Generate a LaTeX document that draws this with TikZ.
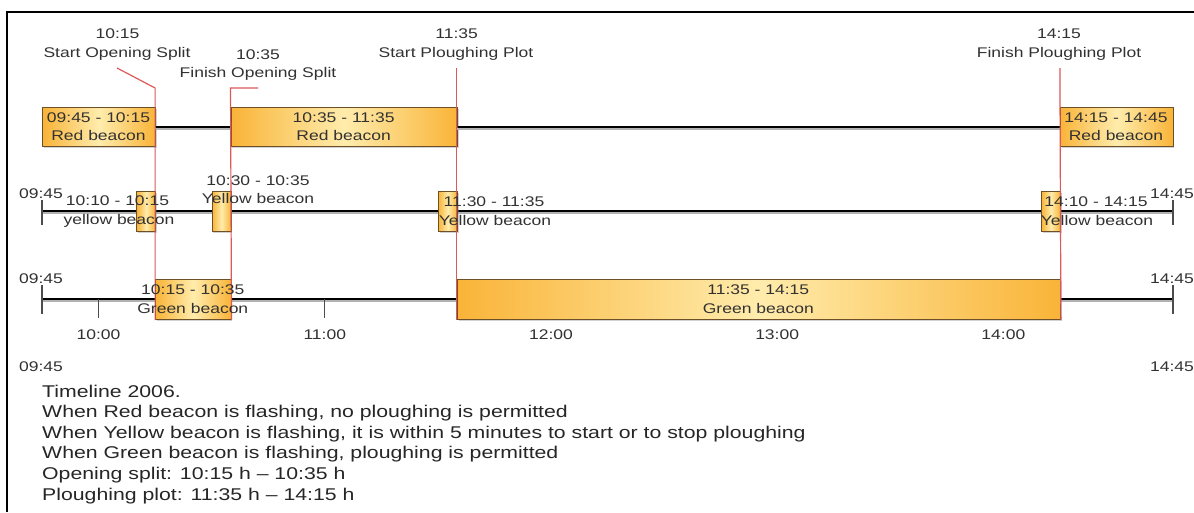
\documentclass[tikz,border=0pt]{standalone}
\usepackage{fontspec}
\setmainfont{Liberation Sans}
\usepackage{graphicx}
\usetikzlibrary{shadows}
\definecolor{boxedge}{RGB}{249,180,56}
\definecolor{boxmid}{RGB}{255,236,172}
\definecolor{boxline}{RGB}{110,80,40}
\definecolor{markred}{RGB}{222,88,88}
\definecolor{txt}{RGB}{50,50,50}
\newcommand\hs[1]{\scalebox{1.25}[1]{#1}}
\begin{document}
\begin{tikzpicture}[x=1pt,y=-1pt,
  lbl/.style={anchor=base,inner sep=0pt,text=txt,font=\fontsize{14}{16}\selectfont},
  note/.style={anchor=base west,inner sep=0pt,text=black!85,font=\fontsize{17}{20}\selectfont},
  bar/.style={draw=boxline,line width=1pt,left color=boxedge,right color=boxedge,middle color=boxmid,inner sep=0pt,anchor=north west,
    drop shadow={shadow xshift=1.3pt,shadow yshift=-1.3pt,opacity=0.35}},
  redbar/.style={bar,minimum height=39pt},
  yelbar/.style={bar,minimum width=18.9pt,minimum height=40pt},
  grnbar/.style={bar,minimum height=40pt},
  axisline/.style={line width=2.8pt,black},
  axisshade/.style={line width=1.6pt,black!30},
  tickline/.style={line width=1.3pt,black!70},
  marker/.style={draw=markred,line width=1.2pt},
  frame/.style={line width=2pt,black},
]
\useasboundingbox (0,0) rectangle (1194,512);
\fill[white] (0,0) rectangle (1194,512);
% frame
\draw[frame] (7,512) -- (7,12) -- (1194,12);

% ---------- axes ----------
\coordinate (a2l) at (42,211);
\coordinate (a2r) at (1173,211);
\coordinate (a3l) at (42,299);
\coordinate (a3r) at (1173,299);
\draw[axisshade] (42,213.2) -- (1173,213.2);
\draw[axisline] (a2l) -- (a2r);
\draw[tickline] (42,200) -- (42,225);
\draw[tickline] (1173,200) -- (1173,225);
\draw[axisshade] (42,301.2) -- (1173,301.2);
\draw[axisline] (a3l) -- (a3r);
\draw[tickline] (42,285) -- (42,314);
\draw[tickline] (1173,285) -- (1173,314);
\foreach \t in {98.55,324.75,550.95,777.15,1003.35}
  \draw[tickline] (\t,299) -- (\t,318);

% ---------- red row ----------
\node[redbar,minimum width=113pt] (r1) at (42,107) {};
\node[redbar,minimum width=226.7pt] (r2) at (230.5,107) {};
\node[redbar,minimum width=112.6pt] (r3) at (1059.9,107) {};
\draw[axisshade] (155,129.2) -- (230.5,129.2);
\draw[axisshade] (457,129.2) -- (1059.9,129.2);
\draw[axisline] (r1.east) -- (r2.west);
\draw[axisline] (r2.east) -- (r3.west);

% ---------- yellow row ----------
\node[yelbar] (y1) at (136.25,191) {};
\node[yelbar] (y2) at (211.65,191) {};
\node[yelbar] (y3) at (437.85,191) {};
\node[yelbar] (y4) at (1041.05,191) {};

% ---------- green row ----------
\node[grnbar,minimum width=75.4pt] (g1) at (155.1,279) {};
\node[grnbar,minimum width=603.2pt] (g2) at (456.7,279) {};

% ---------- top labels ----------
\node[lbl] (t1a) at (117.5,38.5) {\hs{10:15}};
\node[lbl] (t1b) at (117,57.5) {\hs{Start Opening Split}};
\node[lbl] (t2a) at (258,59.5) {\hs{10:35}};
\node[lbl] (t2b) at (258,77.5) {\hs{Finish Opening Split}};
\node[lbl] (t3a) at (456.7,38.5) {\hs{11:35}};
\node[lbl] (t3b) at (456,57.5) {\hs{Start Ploughing Plot}};
\node[lbl] (t4a) at (1059,38.5) {\hs{14:15}};
\node[lbl] (t4b) at (1059,57.5) {\hs{Finish Ploughing Plot}};

% ---------- markers ----------
\coordinate (m1s) at (117,68);
\coordinate (m1k) at (155.1,88);
\coordinate (m2s) at (258,88);
\coordinate (m2k) at (230.5,88);
\coordinate (m3s) at (456.7,68);
\coordinate (m4s) at (1059.9,68);
\draw[marker] (m1s) -- (m1k) -- (g1.south west);
\draw[marker] (m2s) -- (m2k) -- (g1.south east);
\draw[marker] (m3s) -- (g2.south west);
\draw[marker] (m4s) -- (g2.south east);

% ---------- red row labels ----------
\node[lbl] (r1a) at (98.5,122) {\hs{09:45 - 10:15}};
\node[lbl] (r1b) at (98.5,140.5) {\hs{Red beacon}};
\node[lbl] (r2a) at (343.6,122) {\hs{10:35 - 11:35}};
\node[lbl] (r2b) at (343.6,140.5) {\hs{Red beacon}};
\node[lbl] (r3a) at (1116,122) {\hs{14:15 - 14:45}};
\node[lbl] (r3b) at (1116,140.5) {\hs{Red beacon}};

% ---------- yellow row labels ----------
\node[lbl] (ya0) at (41,198.3) {\hs{09:45}};
\node[lbl] (yz0) at (1172,198.3) {\hs{14:45}};
\node[lbl] (y1a) at (117.5,205.7) {\hs{10:10 - 10:15}};
\node[lbl] (y1b) at (119,224.3) {\hs{yellow beacon}};
\node[lbl] (y2a) at (258,185) {\hs{10:30 - 10:35}};
\node[lbl] (y2b) at (258,203.3) {\hs{Yellow beacon}};
\node[lbl] (y3a) at (494,206) {\hs{11:30 - 11:35}};
\node[lbl] (y3b) at (495,225) {\hs{Yellow beacon}};
\node[lbl] (y4a) at (1096,206) {\hs{14:10 - 14:15}};
\node[lbl] (y4b) at (1097,225) {\hs{Yellow beacon}};

% ---------- green row labels ----------
\node[lbl] (ga0) at (41,283.3) {\hs{09:45}};
\node[lbl] (gz0) at (1172,283.3) {\hs{14:45}};
\node[lbl] (g1a) at (192.8,294) {\hs{10:15 - 10:35}};
\node[lbl] (g1b) at (192.8,313.3) {\hs{Green beacon}};
\node[lbl] (g2a) at (758.3,294) {\hs{11:35 - 14:15}};
\node[lbl] (g2b) at (758.3,313.3) {\hs{Green beacon}};

% ---------- hour labels ----------
\node[lbl] (h10) at (98.55,339) {\hs{10:00}};
\node[lbl] (h11) at (324.75,339) {\hs{11:00}};
\node[lbl] (h12) at (550.95,339) {\hs{12:00}};
\node[lbl] (h13) at (777.15,339) {\hs{13:00}};
\node[lbl] (h14) at (1003.35,339) {\hs{14:00}};
\node[lbl] (b0) at (41,371) {\hs{09:45}};
\node[lbl] (bz) at (1172,371) {\hs{14:45}};

% ---------- notes ----------
\node[note] (n1) at (42,397) {\hs{Timeline 2006.}};
\node[note] (n2) at (42,417.6) {\hs{When Red beacon is flashing, no ploughing is permitted}};
\node[note] (n3) at (42,438.2) {\hs{When Yellow beacon is flashing, it is within 5 minutes to start or to stop ploughing}};
\node[note] (n4) at (42,458.8) {\hs{When Green beacon is flashing, ploughing is permitted}};
\node[note] (n5) at (42,479.4) {\hs{Opening split: 10:15 h -- 10:35 h}};
\node[note] (n6) at (42,500) {\hs{Ploughing plot: 11:35 h -- 14:15 h}};
\end{tikzpicture}
\end{document}
